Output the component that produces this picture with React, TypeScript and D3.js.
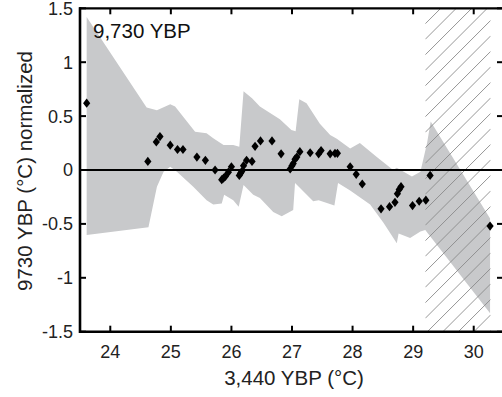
import React from "react";
import * as d3 from "d3";

const xTicks = [24, 25, 26, 27, 28, 29, 30];
const yTicks = [-1.5, -1, -0.5, 0, 0.5, 1, 1.5];
const yTickLabels = ["-1.5", "-1", "-0.5", "0", "0.5", "1", "1.5"];

const title = "9,730 YBP";
const xLabel = "3,440 YBP (°C)";
const yLabel = "9730 YBP (°C) normalized";

// Confidence band: upper bound (left to right)
const bandUpperX = [23.61, 24.6, 24.77, 24.99, 25.07, 25.4, 25.59, 25.7, 25.87, 26.03, 26.13, 26.2, 26.34, 26.47, 26.8, 26.99, 27.06, 27.12, 27.24, 27.46, 27.63, 27.74, 27.96, 28.12, 28.4, 28.67, 28.73, 28.98, 29.12, 29.23, 29.29, 30.27];
const bandUpperY = [1.42, 0.58, 0.555, 0.61, 0.59, 0.355, 0.34, 0.294, 0.232, 0.232, 0.216, 0.73, 0.665, 0.59, 0.47, 0.37, 0.36, 0.656, 0.62, 0.43, 0.325, 0.29, 0.2, 0.25, 0.12, 0.0, 0.02, -0.06, -0.016, 0.25, 0.45, -0.45];
// lower bound (left to right)
const bandLowerX = [23.61, 24.63, 24.77, 24.88, 24.99, 25.1, 25.37, 25.59, 25.7, 25.84, 25.88, 26.03, 26.12, 26.2, 26.36, 26.47, 26.69, 26.83, 27.02, 27.05, 27.35, 27.44, 27.7, 27.76, 27.96, 28.29, 28.51, 28.73, 28.76, 28.95, 29.12, 29.2, 30.27];
const bandLowerY = [-0.603, -0.53, -0.155, -0.016, 0.03, -0.016, -0.155, -0.28, -0.32, -0.31, -0.23, -0.28, -0.34, -0.14, -0.23, -0.26, -0.39, -0.43, -0.37, -0.12, -0.29, -0.28, -0.33, -0.12, -0.19, -0.32, -0.49, -0.68, -0.59, -0.63, -0.57, -0.557, -1.33];

// Data points
const pointX = [23.61, 24.62, 24.76, 24.82, 24.99, 25.11, 25.2, 25.43, 25.57, 25.73, 25.84, 25.87, 25.9, 25.95, 26.0, 26.13, 26.15, 26.17, 26.2, 26.25, 26.34, 26.39, 26.48, 26.67, 26.82, 26.97, 27.0, 27.02, 27.05, 27.08, 27.13, 27.3, 27.44, 27.48, 27.63, 27.71, 27.75, 27.96, 28.06, 28.16, 28.47, 28.61, 28.7, 28.74, 28.77, 28.8, 28.99, 29.1, 29.21, 29.28, 30.27];
const pointY = [0.62, 0.08, 0.26, 0.31, 0.23, 0.19, 0.19, 0.12, 0.09, 0.0, -0.09, -0.075, -0.06, -0.02, 0.03, -0.05, -0.03, -0.015, 0.04, 0.09, 0.08, 0.22, 0.27, 0.27, 0.15, 0.01, 0.04, 0.06, 0.1, 0.12, 0.17, 0.16, 0.15, 0.18, 0.15, 0.155, 0.155, 0.03, -0.04, -0.13, -0.36, -0.34, -0.3, -0.22, -0.18, -0.155, -0.33, -0.29, -0.28, -0.05, -0.52];

// Hatched (extrapolated) region
const hatchStart = 29.2;
const hatchEnd = 30.28;

const W = 502;
const H = 397;
const FONT = "'Liberation Sans', Arial, Helvetica, sans-serif";

export default function App() {
  const x = d3.scaleLinear().domain([23.5, 30.5]).range([80, 504]);
  const y = d3.scaleLinear().domain([-1.5, 1.5]).range([331.7, 8.3]);

  const upper = bandUpperX.map((v, i) => [v, bandUpperY[i]] as [number, number]);
  const lower = bandLowerX.map((v, i) => [v, bandLowerY[i]] as [number, number]).reverse();
  const bandPts = upper.concat(lower);
  const bandPath = d3.line<[number, number]>().x((d) => x(d[0])).y((d) => y(d[1]))(bandPts) + "Z";

  const hx0 = x(hatchStart);
  const hx1 = x(hatchEnd);
  const top = y(1.5);
  const bot = y(-1.5);
  const spacing = 15.5;
  const offsets = d3.range(top - spacing, bot + (hx1 - hx0) + spacing, spacing);

  const diamond = (cx: number, cy: number) =>
    `M${cx},${cy - 4.6}L${cx + 3.6},${cy}L${cx},${cy + 4.6}L${cx - 3.6},${cy}Z`;

  return (
    <svg
      width={W}
      height={H}
      style={{ position: "absolute", left: 0, top: 0, background: "#fff" }}
      fontFamily={FONT}
    >
      <defs>
        <clipPath id="hatchClip">
          <rect x={hx0} y={top} width={hx1 - hx0} height={bot - top} />
        </clipPath>
        <clipPath id="plotClip">
          <rect x={80} y={top} width={424} height={bot - top} />
        </clipPath>
      </defs>

      <path d={bandPath} fill="#c8c9cb" stroke="none" clipPath="url(#plotClip)" />

      <g clipPath="url(#hatchClip)">
        {offsets.map((o, i) => (
          <line
            key={i}
            x1={hx0}
            y1={o}
            x2={hx1}
            y2={o - (hx1 - hx0)}
            stroke="#8a8a8a"
            strokeWidth={0.9}
          />
        ))}
      </g>

      <line x1={80} x2={504} y1={y(0)} y2={y(0)} stroke="#000" strokeWidth={2.2} />

      {pointX.map((v, i) => (
        <path key={i} d={diamond(x(v), y(pointY[i]))} fill="#000" />
      ))}

      {/* frame */}
      <line x1={80} x2={80} y1={top - 1} y2={bot + 1.2} stroke="#000" strokeWidth={2.6} />
      <line x1={79} x2={504} y1={bot} y2={bot} stroke="#000" strokeWidth={2.6} />
      <line x1={79} x2={504} y1={top} y2={top} stroke="#000" strokeWidth={2.2} />
      <line x1={504} x2={504} y1={top} y2={bot} stroke="#000" strokeWidth={2.2} />

      {xTicks.map((t) => (
        <g key={t}>
          <line x1={x(t)} x2={x(t)} y1={bot} y2={bot - 6} stroke="#000" strokeWidth={2} />
          <line x1={x(t)} x2={x(t)} y1={top} y2={top + 6} stroke="#000" strokeWidth={2} />
          <text x={x(t)} y={358} textAnchor="middle" fontSize={18} fill="#222">
            {t}
          </text>
        </g>
      ))}

      {yTicks.map((t, i) => (
        <g key={t}>
          <line x1={80} x2={86} y1={y(t)} y2={y(t)} stroke="#000" strokeWidth={2} />
          <line x1={504} x2={497} y1={y(t)} y2={y(t)} stroke="#000" strokeWidth={2} />
          <text x={73} y={y(t)} dy="0.36em" textAnchor="end" fontSize={18} fill="#222">
            {yTickLabels[i]}
          </text>
        </g>
      ))}

      <text x={93} y={37.5} fontSize={20.5} fill="#111">
        {title}
      </text>

      <text x={294} y={385} textAnchor="middle" fontSize={20.5} fill="#222">
        {xLabel}
      </text>

      <text
        transform={`translate(32,171) rotate(-90)`}
        textAnchor="middle"
        fontSize={20.5}
        fill="#222"
      >
        {yLabel}
      </text>
    </svg>
  );
}
